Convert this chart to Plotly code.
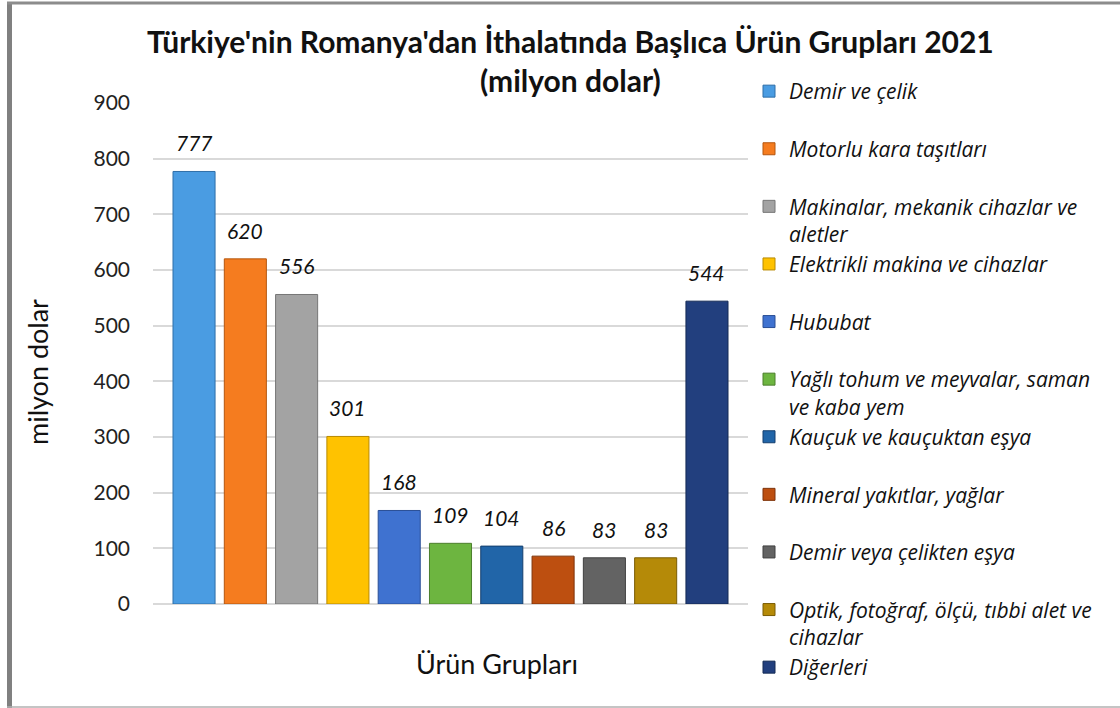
import plotly.graph_objects as go

# ---------------- data ----------------
categories = [
    "Demir ve çelik",
    "Motorlu kara taşıtları",
    "Makinalar, mekanik cihazlar ve aletler",
    "Elektrikli makina ve cihazlar",
    "Hububat",
    "Yağlı tohum ve meyvalar, saman ve kaba yem",
    "Kauçuk ve kauçuktan eşya",
    "Mineral yakıtlar, yağlar",
    "Demir veya çelikten eşya",
    "Optik, fotoğraf, ölçü, tıbbi alet ve cihazlar",
    "Diğerleri",
]
values = [777, 620, 556, 301, 168, 109, 104, 86, 83, 83, 544]
legend_labels = [
    "Demir ve çelik<br>\u00a0",
    "Motorlu kara taşıtları<br>\u00a0",
    "Makinalar, mekanik cihazlar ve<br>aletler",
    "Elektrikli makina ve cihazlar<br>\u00a0",
    "Hububat<br>\u00a0",
    "Yağlı tohum ve meyvalar, saman<br>ve kaba yem",
    "Kauçuk ve kauçuktan eşya<br>\u00a0",
    "Mineral yakıtlar, yağlar<br>\u00a0",
    "Demir veya çelikten eşya<br>\u00a0",
    "Optik, fotoğraf, ölçü, tıbbi alet ve<br>cihazlar",
    "Diğerleri",
]
colors = ["#4A9CE2", "#F57C1F", "#A3A3A3", "#FFC200", "#3F72D0", "#6DB540",
          "#2165A8", "#BD4F10", "#636363", "#B58A08", "#223F7E"]
edge_colors = ["#2F6FA8", "#B4560F", "#767676", "#B88A00", "#2A4F96", "#4C7F2C",
               "#143F6E", "#7E330A", "#404040", "#7A5C04", "#142A55"]
y_ticks = [0, 100, 200, 300, 400, 500, 600, 700, 800, 900]

title_text = "Türkiye'nin Romanya'dan İthalatında Başlıca Ürün Grupları 2021<br>(milyon dolar)"
y_title = "milyon dolar"
x_title = "Ürün Grupları"

# ---------------- layout geometry (pixels) ----------------
W, H = 1120, 708
L, R, T, B = 153, 748, 103, 604   # plot area in pixels


def px_x(p):
    return p / W


def px_y(p):
    return 1 - p / H


FONT = "Lato"
LEG_FONT = "Open Sans"

fig = go.Figure()
for i, (lab, v) in enumerate(zip(legend_labels, values)):
    fig.add_trace(go.Bar(
        x=[i], y=[v], width=0.82, name=lab,
        marker=dict(color=colors[i], line=dict(color=edge_colors[i], width=1)),
        legendgroup=str(i),
        hovertext=categories[i], hoverinfo="text+y",
    ))

annotations = []
for i, v in enumerate(values):
    annotations.append(dict(
        x=i, y=v, xref="x", yref="y", text=str(v), showarrow=False,
        yanchor="bottom", yshift=14,
        font=dict(family=FONT, size=21, color="#111", style="italic"),
    ))

annotations.append(dict(
    x=px_x(570), y=px_y(60), xref="paper", yref="paper", text=title_text,
    showarrow=False, xanchor="center", yanchor="middle",
    font=dict(family=FONT, size=30, color="#111", weight="bold"),
))
annotations.append(dict(
    x=px_x(37), y=px_y(372), xref="paper", yref="paper", text=y_title,
    textangle=-90, showarrow=False, xanchor="center", yanchor="middle",
    font=dict(family=FONT, size=27, color="#111"),
))
annotations.append(dict(
    x=px_x(497), y=px_y(663), xref="paper", yref="paper", text=x_title,
    showarrow=False, xanchor="center", yanchor="middle",
    font=dict(family=FONT, size=27, color="#111"),
))

shapes = [
    dict(type="line", xref="paper", yref="paper", x0=px_x(9.5), x1=px_x(9.5),
         y0=px_y(2), y1=px_y(708), line=dict(color="#808080", width=5)),
    dict(type="line", xref="paper", yref="paper", x0=px_x(7), x1=px_x(1125),
         y0=px_y(3), y1=px_y(3), line=dict(color="#8c8c8c", width=3)),
    dict(type="line", xref="paper", yref="paper", x0=px_x(7), x1=px_x(1125),
         y0=px_y(707), y1=px_y(707), line=dict(color="#b0b0b0", width=1.5)),
]

fig.update_layout(
    width=W, height=H,
    margin=dict(l=0, r=0, t=0, b=0, pad=0),
    paper_bgcolor="white", plot_bgcolor="white",
    barmode="overlay",
    xaxis=dict(domain=[L / W, R / W], range=[-0.8, 10.8], showticklabels=False,
               showgrid=False, zeroline=False, showline=False, fixedrange=True,
               automargin=False),
    yaxis=dict(domain=[1 - B / H, 1 - T / H], range=[0, 900], tickvals=y_ticks,
               showgrid=True, gridcolor="#d9d9d9", gridwidth=1.5, zeroline=True,
               zerolinecolor="#d9d9d9", zerolinewidth=1.5, showline=False,
               ticklabelstandoff=22, automargin=False,
               tickfont=dict(family=FONT, size=21, color="#222")),
    legend=dict(x=px_x(749), xanchor="left", y=px_y(71), yanchor="top",
                valign="top", tracegroupgap=0, itemwidth=30,
                font=dict(family=LEG_FONT, size=21, color="#111", style="italic"),
                bgcolor="rgba(0,0,0,0)"),
    showlegend=True,
    annotations=annotations,
    shapes=shapes,
)

fig.write_html("out.html", config={"displayModeBar": False},
               post_script="document.body.style.margin='0';")
